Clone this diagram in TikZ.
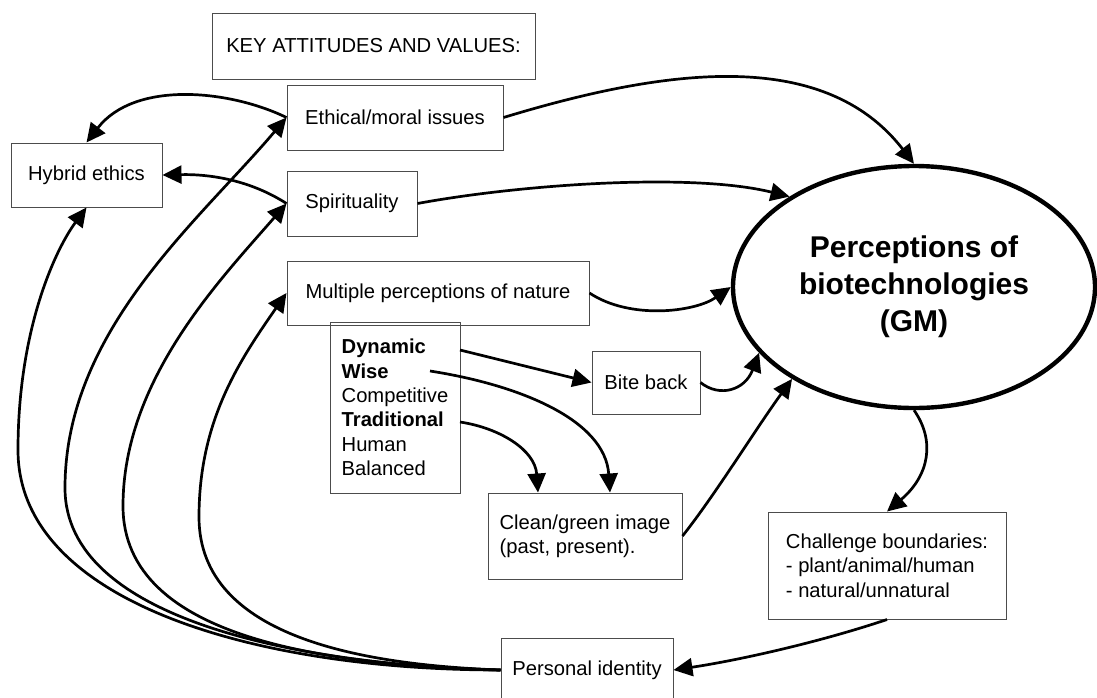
\documentclass[tikz,border=0pt]{standalone}
\usepackage{fontspec}
\setmainfont{Liberation Sans}
\usetikzlibrary{arrows.meta,shapes.geometric}
\begin{document}
\begin{tikzpicture}[x=0.5pt,y=-0.5pt,
  box/.style={draw=black!70, line width=0.5pt, inner sep=0pt, align=center, font=\fontsize{10.1}{12.15}\selectfont},
  lbox/.style={box, align=left},
  conn/.style={line width=1.35pt, -{Triangle[length=9.5pt,width=9pt]}},
  bigell/.style={draw, ellipse, line width=2.2pt, inner sep=0pt, minimum width=181pt, minimum height=121pt, align=center, font=\bfseries\fontsize{15}{18.5}\selectfont}
]
\useasboundingbox (0,0) rectangle (1097,697);

\node[box, minimum width=161.5pt, minimum height=33pt] (key) at (373.5,46) {KEY ATTITUDES AND VALUES:};
\node[box, minimum width=108pt, minimum height=32.5pt] (eth) at (395,117.5) {Ethical/moral issues};
\node[box, minimum width=75.5pt, minimum height=32pt] (hyb) at (86.5,175) {Hybrid ethics};
\node[box, minimum width=65pt, minimum height=32.5pt] (spi) at (352,203.5) {Spirituality};
\node[box, minimum width=151pt, minimum height=32pt] (mul) at (438,293) {Multiple perceptions of nature};
\node[lbox, minimum width=65pt, minimum height=85.5pt] (dyn) at (395,407.5) {\textbf{Dynamic}\\\textbf{Wise}\\Competitive\\\textbf{Traditional}\\Human\\Balanced};
\node[box, minimum width=54pt, minimum height=31.5pt] (bite) at (646,382.5) {Bite back};
\node[lbox, minimum width=97pt, minimum height=43pt] (clean) at (585,536) {Clean/green image\\(past, present).};
\node[lbox, minimum width=119pt, minimum height=53.5pt] (chal) at (887,565.5) {Challenge boundaries:\\- plant/animal/human\\- natural/unnatural};
\node[box, minimum width=86pt, minimum height=32pt] (pers) at (587,670) {Personal identity};
\node[bigell] (gm) at (914,287) {Perceptions of\\biotechnologies\\(GM)};

\coordinate (dynA) at (460,350);
\coordinate (wiseA) at (430,371);
\coordinate (tradA) at (460,422);

% into the ellipse
\draw[conn] (eth.east) .. controls (663,69) and (823,46) .. (gm.north);
\draw[conn] (spi.east) .. controls (517,185) and (690,172) .. (gm.144);
\draw[conn] (mul.east) .. controls (630,320) and (695,312) .. (gm.west);
\draw[conn] (bite.east) .. controls (720,398) and (745,390) .. (gm.203);
\draw[conn] (clean.east) .. controls (715,495) and (755,430) .. (gm.217);

% from the list
\draw[conn] (dynA) -- (bite.west);
\draw[conn] (wiseA) .. controls (520,385) and (605,420) .. ([xshift=12.5pt]clean.north);
\draw[conn] (tradA) .. controls (500,428) and (535,450) .. ([xshift=-23.5pt]clean.north);

% ellipse to boundaries to identity
\draw[conn] (gm.south) .. controls (935,440) and (930,475) .. (chal.north);
\draw[conn] (chal.south) .. controls (820,642) and (740,660) .. (pers.east);

% to hybrid ethics
\draw[conn] (eth.west) .. controls (230,90) and (135,80) .. (hyb.north);
\draw[conn] (spi.west) .. controls (250,180) and (210,174) .. (hyb.east);

% from personal identity
\draw[conn] (pers.west) .. controls (250,670) and (18,600) .. (18,450) .. controls (18,330) and (55,250) .. (hyb.south);
\draw[conn] (pers.west) .. controls (300,665) and (65,620) .. (65,488) .. controls (65,330) and (200,220) .. (eth.west);
\draw[conn] (pers.west) .. controls (330,665) and (123,640) .. (123,506) .. controls (123,380) and (220,280) .. (spi.west);
\draw[conn] (pers.west) .. controls (370,665) and (199,640) .. (199,517) .. controls (199,420) and (240,360) .. (mul.west);
\end{tikzpicture}
\end{document}
